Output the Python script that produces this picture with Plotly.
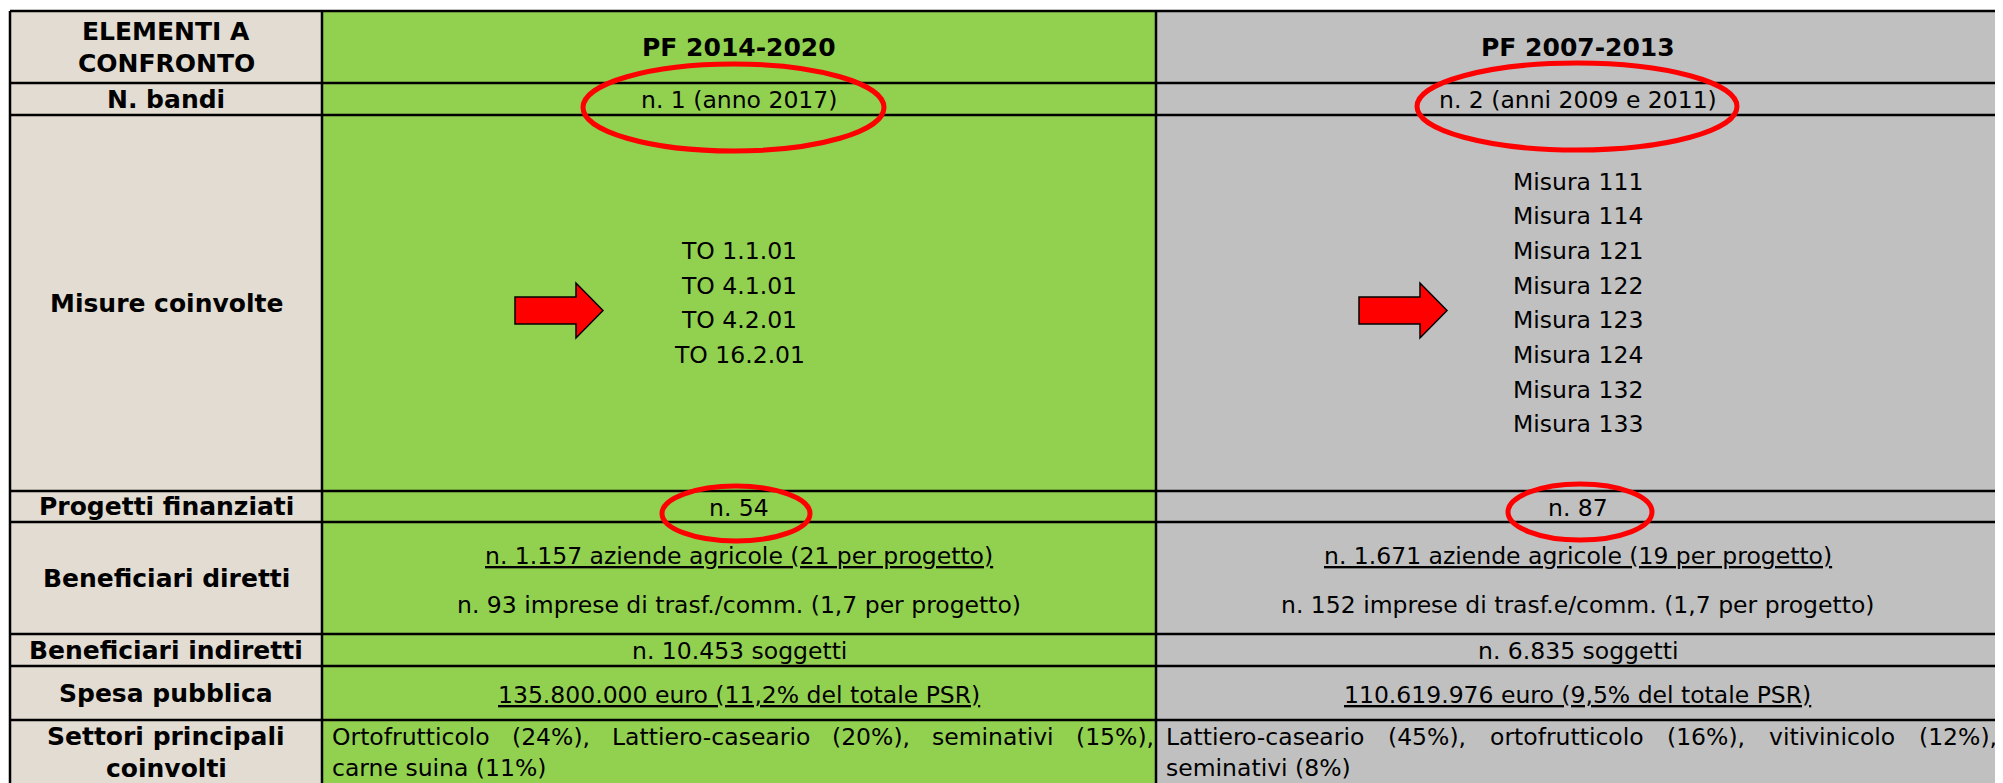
import plotly.graph_objects as go

# ---------------- data ----------------
row_labels = [
    "ELEMENTI A\nCONFRONTO",
    "N. bandi",
    "Misure coinvolte",
    "Progetti finanziati",
    "Beneficiari diretti",
    "Beneficiari indiretti",
    "Spesa pubblica",
    "Settori principali\ncoinvolti",
]
periods = ["PF 2014-2020", "PF 2007-2013"]
n_bandi = ["n. 1 (anno 2017)", "n. 2 (anni 2009 e 2011)"]
misure_new = ["TO 1.1.01", "TO 4.1.01", "TO 4.2.01", "TO 16.2.01"]
misure_old = ["Misura 111", "Misura 114", "Misura 121", "Misura 122",
              "Misura 123", "Misura 124", "Misura 132", "Misura 133"]
progetti = ["n. 54", "n. 87"]
benef_aziende = ["n. 1.157 aziende agricole (21 per progetto)",
                 "n. 1.671 aziende agricole (19 per progetto)"]
benef_imprese = ["n. 93 imprese di trasf./comm. (1,7 per progetto)",
                 "n. 152 imprese di trasf.e/comm. (1,7 per progetto)"]
benef_indiretti = ["n. 10.453 soggetti", "n. 6.835 soggetti"]
spesa = ["135.800.000 euro (11,2% del totale PSR)",
         "110.619.976 euro (9,5% del totale PSR)"]
settori_line1 = ["Ortofrutticolo (24%), Lattiero-caseario (20%), seminativi (15%),",
                 "Lattiero-caseario (45%), ortofrutticolo (16%), vitivinicolo (12%),"]
settori_line2 = ["carne suina (11%)", "seminativi (8%)"]

# ---------------- layout geometry (page pixels) ----------------
W, H = 2003, 783
OFF = 8  # default body margin of the html page
COL = [10, 322, 1156, 1999]
ROW = [11, 83, 115, 491, 522, 634, 666, 720, 805]
STONE = "#e2dcd2"
GREEN = "#92d050"
GRAY = "#c0c0c0"
FONT = "DejaVu Sans"
FS = 23.5
FSB = 25

# approximate DejaVu Sans advance widths (em)
CW = {' ': .318, '(': .390, ')': .390, '%': .950, ',': .318, '-': .361, '.': .318,
      '/': .337, 'a': .613, 'b': .635, 'c': .550, 'd': .635, 'e': .615, 'f': .352,
      'g': .635, 'h': .634, 'i': .278, 'l': .278, 'm': .974, 'n': .634, 'o': .612,
      'p': .635, 'r': .411, 's': .521, 't': .392, 'u': .634, 'v': .592, 'z': .525,
      'L': .557, 'O': .787}


def text_w(s, size):
    return sum(CW.get(c, .636) for c in s) * size


fig = go.Figure()
fig.add_trace(go.Scatter(x=[None], y=[None], showlegend=False, hoverinfo="skip"))

shapes = []
annotations = []


def rect(x0, y0, x1, y1, color):
    shapes.append(dict(type="rect", xref="x", yref="y", x0=x0, y0=y0, x1=x1, y1=y1,
                       fillcolor=color, line=dict(width=0), layer="below"))


def txt(x, y, s, size=FS, bold=False, anchor="center"):
    if bold:
        s = "<b>" + s + "</b>"
    annotations.append(dict(x=x, y=y, xref="x", yref="y", text=s, showarrow=False,
                            xanchor=anchor, yanchor="middle",
                            font=dict(family=FONT, size=size, color="black")))


def multiline(x, ymid, lines, spacing, size=FS, bold=False):
    n = len(lines)
    for i, ln in enumerate(lines):
        txt(x, ymid + (i - (n - 1) / 2) * spacing, ln, size, bold)


# backgrounds
rect(COL[0], ROW[0], COL[1], ROW[-1], STONE)
rect(COL[1], ROW[0], COL[2], ROW[-1], GREEN)
rect(COL[2], ROW[0], COL[3], ROW[-1], GRAY)

# grid lines
for y in ROW[:-1]:
    shapes.append(dict(type="line", xref="x", yref="y", x0=COL[0], x1=COL[3], y0=y, y1=y,
                       line=dict(color="black", width=2.5)))
for x in COL:
    shapes.append(dict(type="line", xref="x", yref="y", x0=x, x1=x, y0=ROW[0], y1=ROW[-1],
                       line=dict(color="black", width=2.5)))

mid_row = [(ROW[i] + ROW[i + 1]) / 2 for i in range(len(ROW) - 1)]
c_mid = [(COL[i] + COL[i + 1]) / 2 for i in range(len(COL) - 1)]

# label column
for i, lab in enumerate(row_labels):
    lines = lab.split("\n")
    ym = mid_row[i]
    if i == len(row_labels) - 1:
        ym = 752
    multiline(c_mid[0], ym, lines, 32, FSB, True)

# value columns
for j in range(2):
    cx = c_mid[j + 1]
    txt(cx, mid_row[0], periods[j], FSB, True)
    txt(cx, mid_row[1] + 1, n_bandi[j])
    lst = misure_new if j == 0 else misure_old
    multiline(cx, mid_row[2], lst, 34.7)
    txt(cx, mid_row[3] + 1, progetti[j])
    txt(cx, 556, "<u>" + benef_aziende[j] + "</u>")
    txt(cx, 605, benef_imprese[j])
    txt(cx, mid_row[5] + 1, benef_indiretti[j])
    txt(cx, mid_row[6] + 2, "<u>" + spesa[j] + "</u>")
    # justified first line of sectors
    left = COL[j + 1] + 8
    right = COL[j + 2] - 4
    words = settori_line1[j].split(" ")
    widths = [text_w(w, FS) for w in words]
    gap = (right - left - sum(widths)) / (len(words) - 1)
    x = left
    for w, wd in zip(words, widths):
        txt(x, 737, w, anchor="left")
        x += wd + gap
    txt(left, 768, settori_line2[j], anchor="left")

# arrows
for x0 in (515, 1359):
    xh, xt = x0 + 61, x0 + 88
    path = (f"M {x0},297 L {xh},297 L {xh},283 L {xt},310.5 L {xh},338 "
            f"L {xh},324 L {x0},324 Z")
    shapes.append(dict(type="path", xref="x", yref="y", path=path,
                       fillcolor="#ff0000", line=dict(color="black", width=1.5)))

# red ellipses
for (ex0, ey0, ex1, ey1) in [(583, 64, 884, 151), (1417, 63, 1737, 150),
                             (662, 486, 810, 541), (1508, 484, 1652, 540)]:
    shapes.append(dict(type="circle", xref="x", yref="y", x0=ex0, y0=ey0, x1=ex1, y1=ey1,
                       line=dict(color="#ff0000", width=5)))

fig.update_layout(
    width=W - OFF, height=H - OFF, margin=dict(l=0, r=0, t=0, b=0),
    paper_bgcolor="white", plot_bgcolor="white",
    xaxis=dict(range=[OFF, W], visible=False, fixedrange=True),
    yaxis=dict(range=[H, OFF], visible=False, fixedrange=True),
    shapes=shapes, annotations=annotations, showlegend=False,
)
fig.write_html("out.html", config={"displayModeBar": False})
